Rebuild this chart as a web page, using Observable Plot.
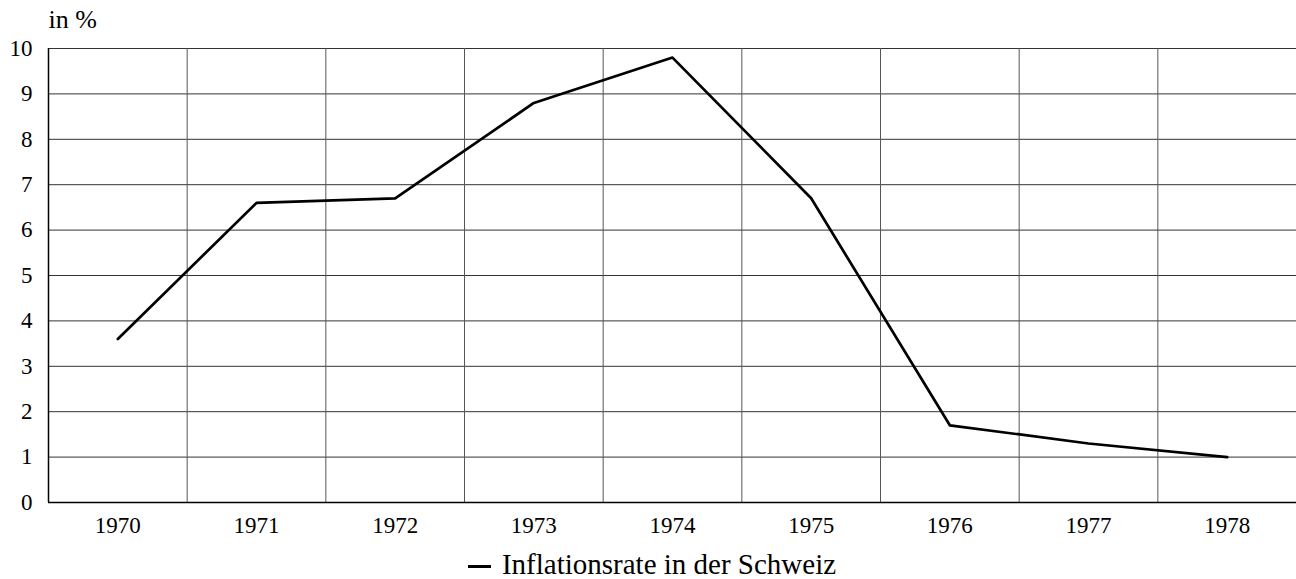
<!DOCTYPE html>
<html>
<head>
<meta charset="utf-8">
<script src="https://cdn.jsdelivr.net/npm/d3@7"></script>
<script src="https://cdn.jsdelivr.net/npm/@observablehq/plot@0.6"></script>
<style>
  body { margin: 0; background: #fff; font-family: "Liberation Serif", serif; }
  #legend { text-align: center; font-size: 29px; line-height: 32px; color: #000; margin-top: 8px; padding-left: 8px; white-space: nowrap; }
  #legend .sw { display: inline-block; width: 23px; height: 3px; background: #000; vertical-align: middle; margin-right: 11px; position: relative; top: -1px; }
</style>
</head>
<body>
<div id="chart"></div>
<div id="legend"><span class="sw"></span>Inflationsrate in der Schweiz</div>
<script>
const years = [1970, 1971, 1972, 1973, 1974, 1975, 1976, 1977, 1978];
const inflation = [3.6, 6.6, 6.7, 8.8, 9.8, 6.7, 1.7, 1.3, 1.0];
const yTicks = [0, 1, 2, 3, 4, 5, 6, 7, 8, 9, 10];
const seriesName = "Inflationsrate in der Schweiz";

const data = years.map((y, i) => ({year: y, value: inflation[i]}));
const bounds = years.slice(0, -1).map(y => y + 0.5);

const chart = Plot.plot({
  width: 1296,
  height: 540,
  marginTop: 48,
  marginBottom: 38,
  marginLeft: 48,
  marginRight: 0,
  style: {fontFamily: "Liberation Serif, serif", fontSize: "23px", color: "#000", background: "#fff"},
  x: {domain: [years[0] - 0.5, years[years.length - 1] + 0.5], label: null},
  y: {domain: [0, 10], label: null},
  marks: [
    Plot.ruleY(yTicks.filter(d => d > 0), {stroke: "#333", strokeWidth: 1, strokeOpacity: 1}),
    Plot.ruleX(bounds, {stroke: "#555", strokeWidth: 1, strokeOpacity: 1}),
    Plot.axisX({ticks: years, tickFormat: d => String(d), tickSize: 0, tickPadding: 14, fontSize: 23, label: null}),
    Plot.axisY({ticks: yTicks, tickSize: 0, tickPadding: 16, fontSize: 23, label: null}),
    Plot.ruleY([0], {stroke: "#000", strokeWidth: 1.5}),
    Plot.ruleX([years[0] - 0.5], {stroke: "#000", strokeWidth: 1.5}),
    Plot.line(data, {x: "year", y: "value", stroke: "#000", strokeWidth: 2.7, strokeLinejoin: "round"}),
    Plot.text(["in %"], {frameAnchor: "top-left", dy: -21, textAnchor: "start", lineAnchor: "bottom", fontSize: 26})
  ]
});
document.getElementById("chart").appendChild(chart);
</script>
</body>
</html>
